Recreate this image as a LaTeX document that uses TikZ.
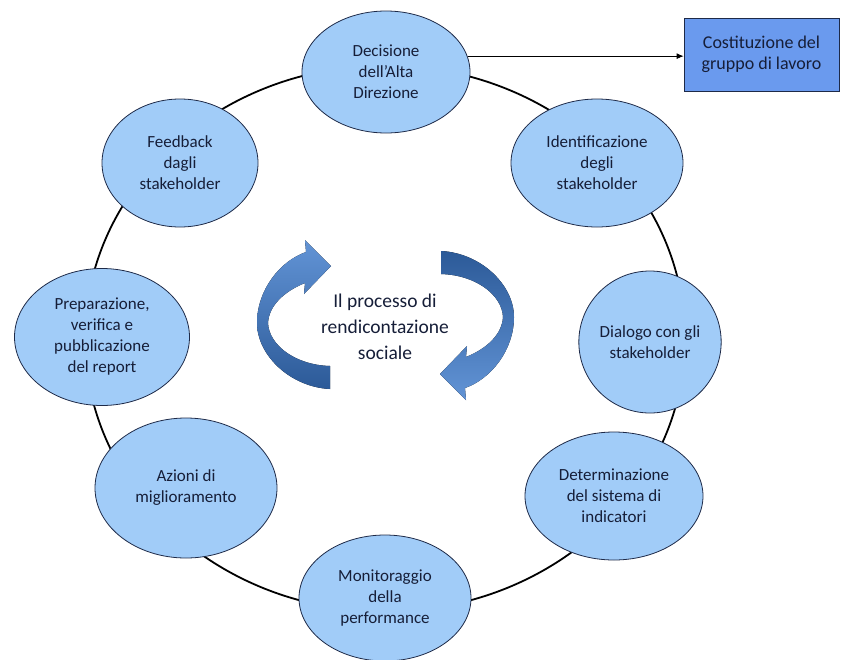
\documentclass[tikz,border=0pt]{standalone}
\usepackage{fontspec}
\setmainfont{Carlito}
\usetikzlibrary{arrows.meta, shapes.geometric, positioning}
\definecolor{faseblue}{RGB}{161,204,248}
\definecolor{boxblue}{RGB}{106,154,238}
\definecolor{testo}{RGB}{22,30,56}
\definecolor{bordo}{RGB}{30,42,72}
\definecolor{frecciachiara}{RGB}{98,148,214}
\definecolor{frecciascura}{RGB}{44,90,152}

\tikzset{
  fase/.style={ellipse, draw=bordo, line width=0.8pt, fill=faseblue, text=testo, align=center, inner sep=0pt, font=\fontsize{17}{21}\selectfont},
  gruppo/.style={rectangle, draw=bordo, line width=0.8pt, fill=boxblue, text=testo, align=center, font=\fontsize{18}{21}\selectfont},
}

\begin{document}
\begin{tikzpicture}[x=1pt, y=-1pt]
    \useasboundingbox (0,0) rectangle (843,659);
    \coordinate (mid) at (385,338.5);

    % anello del processo
    \draw[line width=1.8pt] (mid) ellipse [x radius=300pt, y radius=273pt];

    \node[fase, minimum width=168pt, minimum height=122pt] (dec) at (386,72) {Decisione\\dell'Alta\\Direzione};
    \node[fase, minimum width=172pt, minimum height=128pt] (ident) at (597,163) {Identificazione\\degli\\stakeholder};
    \node[fase, minimum width=142pt, minimum height=142pt] (dial) at (650,342) {Dialogo con gli\\stakeholder};
    \node[fase, minimum width=178pt, minimum height=128pt] (det) at (614,496) {Determinazione\\del sistema di\\indicatori};
    \node[fase, minimum width=172pt, minimum height=126pt] (mon) at (385,598) {Monitoraggio\\della\\performance};
    \node[fase, minimum width=182pt, minimum height=140pt] (azi) at (186,488) {Azioni di\\miglioramento};
    \node[fase, minimum width=175pt, minimum height=137pt] (prep) at (102,337) {Preparazione,\\verifica e\\pubblicazione\\del report};
    \node[fase, minimum width=156pt, minimum height=128pt] (feed) at (180,163) {Feedback\\dagli\\stakeholder};

    \node[gruppo, minimum width=155pt, minimum height=73pt] (grp) at (761.5,54.5) {Costituzione del\\gruppo di lavoro};
    \draw[-{Latex[length=7pt,width=6pt]}, line width=0.8pt] (dec.11) -- (dec.11 -| grp.west);

    % frecce circolari
    \foreach \ang/\ca/\cb in {0/frecciachiara/frecciascura, 180/frecciascura/frecciachiara}
        \fill[top color=\ca, bottom color=\cb, rotate around={\ang:(385.5,320)}]
            (330,389) .. controls (290,387) and (257,355) .. (257,323)
            .. controls (257,290) and (280,261) .. (306,252)
            -- (305,240) -- (331,266) -- (304,294) -- (305,283)
            .. controls (285,291) and (269,305) .. (268,323)
            .. controls (269,345) and (295,365) .. (330,366) -- cycle;

    \node[text=testo, align=center, font=\fontsize{19.5}{26}\selectfont] (titolo) at (385,327) {Il processo di\\rendicontazione\\sociale};
\end{tikzpicture}
\end{document}
